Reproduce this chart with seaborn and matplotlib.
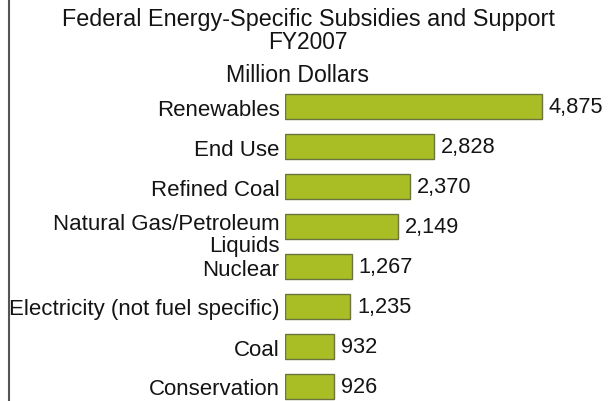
import matplotlib
matplotlib.use("Agg")
import matplotlib.pyplot as plt
import matplotlib.transforms as mtransforms
from matplotlib.lines import Line2D
import seaborn as sns
import pandas as pd

categories = ["Renewables", "End Use", "Refined Coal", "Natural Gas/Petroleum\nLiquids",
              "Nuclear", "Electricity (not fuel specific)", "Coal", "Conservation"]
values = [4875, 2828, 2370, 2149, 1267, 1235, 932, 926]
value_labels = ["4,875", "2,828", "2,370", "2,149", "1,267", "1,235", "932", "926"]
title_lines = ["Federal Energy-Specific Subsidies and Support", "FY2007", "Million Dollars"]

sns.set_theme(style="white")
plt.rcParams["font.family"] = ["Liberation Sans", "DejaVu Sans"]
TXT = "#141414"

df = pd.DataFrame({"category": categories, "value": values})

W, H = 610, 402
fig = plt.figure(figsize=(W / 100, H / 100), dpi=100)
fig.patch.set_facecolor("white")
ax = fig.add_axes([285 / W, 0, 325 / W, 322 / H])

sns.barplot(data=df, x="value", y="category", orient="h", ax=ax,
            color="#a9be24", saturation=1, width=0.64,
            edgecolor="#6b7340", linewidth=1.0)

ax.set_xlim(0, 6172)
ax.set_ylim(7.3625, -0.6875)
for s in ax.spines.values():
    s.set_visible(False)
ax.set_xticks([])
ax.set_xlabel("")
ax.set_ylabel("")
ax.tick_params(axis="y", length=0, pad=4, labelsize=16, labelcolor=TXT)
for lab in ax.get_yticklabels():
    lab.set_linespacing(1.05)
    if "\n" in lab.get_text():
        off = mtransforms.ScaledTranslation(0, -5 / 100, fig.dpi_scale_trans)
        lab.set_transform(lab.get_transform() + off)

ax.bar_label(ax.containers[0], labels=value_labels, padding=5,
             fontsize=15.7, color=TXT)

fig.text(308 / W, 1 - 26 / H, title_lines[0], ha="center", va="baseline",
         fontsize=16.8, color=TXT)
fig.text(308 / W, 1 - 49 / H, title_lines[1], ha="center", va="baseline",
         fontsize=16.4, color=TXT)
fig.text(297 / W, 1 - 82 / H, title_lines[2], ha="center", va="baseline",
         fontsize=16.7, color=TXT)

fig.add_artist(Line2D([9 / W, 9 / W], [0, 1], transform=fig.transFigure,
                      color="#555555", lw=1.5))

fig.savefig("out.png", dpi=100, facecolor="white")
